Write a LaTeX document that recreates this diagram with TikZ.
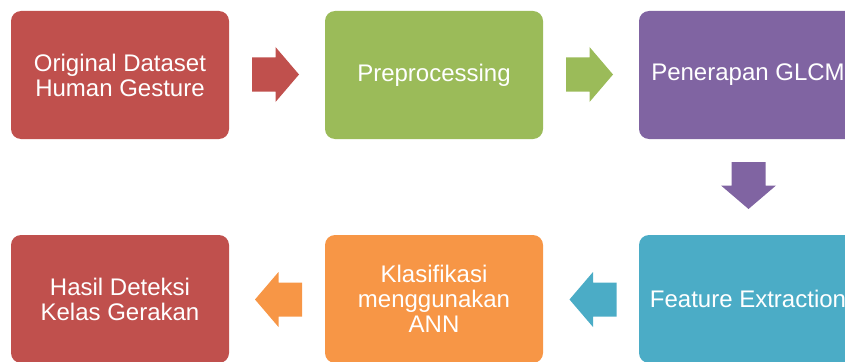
\documentclass[tikz,border=0pt]{standalone}
\usepackage{fontspec}
\setmainfont{Liberation Sans}
\definecolor{cred}{HTML}{C0504D}
\definecolor{cgreen}{HTML}{9BBB59}
\definecolor{cpurple}{HTML}{8064A2}
\definecolor{cblue}{HTML}{4BACC6}
\definecolor{corange}{HTML}{F79646}
\tikzset{
  box/.style={rounded corners=10pt, minimum width=218pt, minimum height=128pt, inner sep=0pt,
    text=white, align=center, font=\fontsize{24}{25}\selectfont},
  blockarrow/.pic={\path[pic actions] (-23.5,-17) -- (0,-17) -- (0,-27.5) -- (23.5,0) -- (0,27.5) -- (0,17) -- (-23.5,17) -- cycle;}
}
\begin{document}
\begin{tikzpicture}[x=1pt,y=-1pt]
\useasboundingbox (0,0) rectangle (845,361);
\begin{scope}
\clip (0,0) rectangle (845,361);
\node[box, fill=cred] (b1) at (120,75) {Original Dataset\\Human Gesture};
\node[box, fill=cgreen] (b2) at (434,75) {Preprocessing};
\node[box, fill=cpurple] (b3) at (748,75) {Penerapan GLCM};
\node[box, fill=cblue] (b6) at (748,299) {Feature Extraction};
\node[box, fill=corange] (b5) at (434,299) {Klasifikasi\\menggunakan\\ANN};
\node[box, fill=cred] (b4) at (120,299) {Hasil Deteksi\\Kelas Gerakan};
\pic[fill=cred] at (275.5,74.5) {blockarrow};
\pic[fill=cgreen] at (589.5,74.5) {blockarrow};
\pic[fill=cpurple, rotate=-90] at (748.5,185.5) {blockarrow};
\pic[fill=cblue, rotate=180] at (593,299.5) {blockarrow};
\pic[fill=corange, rotate=180] at (278.5,299.5) {blockarrow};
\end{scope}
\end{tikzpicture}
\end{document}
